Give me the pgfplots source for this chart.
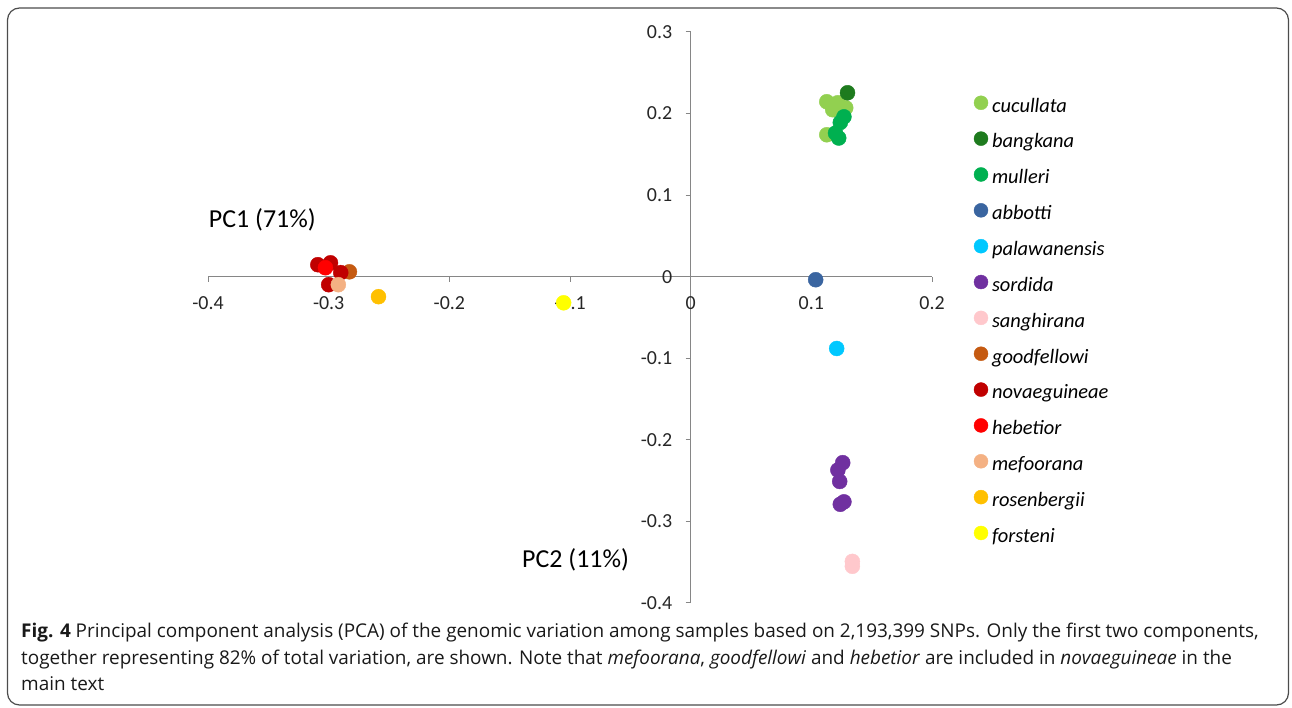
\documentclass[border=0pt]{standalone}
\usepackage{pgfplots}
\pgfplotsset{compat=1.18}
\usepackage{fontspec}
\setmainfont{Carlito}
\newfontfamily\capfont{Open Sans}
\definecolor{ccu}{HTML}{92D050}
\definecolor{cba}{HTML}{1E7B1E}
\definecolor{cmu}{HTML}{00B050}
\definecolor{cab}{HTML}{3A65A0}
\definecolor{cpa}{HTML}{00C8FF}
\definecolor{cso}{HTML}{7030A0}
\definecolor{csa}{HTML}{FFC8CC}
\definecolor{cgo}{HTML}{C55A11}
\definecolor{cno}{HTML}{C00000}
\definecolor{che}{HTML}{FF0000}
\definecolor{cme}{HTML}{F4B183}
\definecolor{cro}{HTML}{FFC000}
\definecolor{cfo}{HTML}{FFFF00}
\definecolor{axgray}{HTML}{868686}
\begin{document}
\begin{tikzpicture}[x=1bp,y=1bp]
\useasboundingbox (0,0) rectangle (1292,708);
\draw[black!70, line width=1.2bp, rounded corners=12bp] (7.5,3) rectangle (1288.5,700);
\begin{axis}[
  at={(208bp,105bp)}, anchor=south west,
  scale only axis, width=724bp, height=571bp,
  xmin=-0.4, xmax=0.2, ymin=-0.4, ymax=0.3,
  axis lines=middle,
  axis line style={draw=axgray, line width=1.3bp, -},
  every inner x axis line/.append style={-},
  every inner y axis line/.append style={-},
  hide obscured x ticks=false, hide obscured y ticks=false,
  xtick={-0.4,-0.3,-0.2,-0.1,0,0.1,0.2},
  ytick={-0.4,-0.3,-0.2,-0.1,0,0.1,0.2,0.3},
  tick align=outside, major tick length=5bp,
  tick style={draw=axgray, line width=1bp},
  x tick label style={font=\fontsize{20}{23}\selectfont, text=black!85, yshift=-11bp},
  y tick label style={font=\fontsize{20}{23}\selectfont, text=black!85, xshift=-10bp},
  /pgf/number format/assume math mode=true,
  /pgf/number format/fixed, /pgf/number format/precision=1,
  clip=false,
  legend cell align=left,
  legend image code/.code={\draw[#1, mark size=7bp] plot coordinates {(0bp,4.8bp)};},
  legend style={draw=none, fill=none, at={(1,1)}, anchor=north west,
    xshift=42bp, yshift=-63.8bp, inner sep=0pt, outer sep=0pt,
    row sep=14.55bp, column sep=4bp,
    nodes={inner sep=0pt, text height=14bp, text depth=5bp},
    font=\itshape\fontsize{20.5}{23}\selectfont},
  every axis plot/.append style={only marks, mark=*, mark size=7.5bp},
]
\addplot[mark options={draw=ccu, fill=ccu}] coordinates {(0.1128,0.2145) (0.1219,0.2132) (0.1285,0.2071) (0.1177,0.2047) (0.1128,0.174)};
\addlegendentry{cucullata}
\addplot[mark options={draw=cba, fill=cba}] coordinates {(0.130,0.2255)};
\addlegendentry{bangkana}
\addplot[mark options={draw=cmu, fill=cmu}] coordinates {(0.127,0.196) (0.124,0.189) (0.120,0.176) (0.1227,0.170)};
\addlegendentry{mulleri}
\addplot[mark options={draw=cab, fill=cab}] coordinates {(0.1036,-0.0037)};
\addlegendentry{abbotti}
\addplot[mark options={draw=cpa, fill=cpa}] coordinates {(0.121,-0.088)};
\addlegendentry{palawanensis}
\addplot[mark options={draw=cso, fill=cso}] coordinates {(0.126,-0.228) (0.122,-0.237) (0.1235,-0.251) (0.127,-0.276) (0.124,-0.279)};
\addlegendentry{sordida}
\addplot[mark options={draw=csa, fill=csa}] coordinates {(0.134,-0.349) (0.134,-0.355)};
\addlegendentry{sanghirana}
\addplot[mark options={draw=cgo, fill=cgo}] coordinates {(-0.2828,0.006)};
\addlegendentry{goodfellowi}
\addplot[mark options={draw=cno, fill=cno}] coordinates {(-0.309,0.0147) (-0.2985,0.017) (-0.290,0.005) (-0.300,-0.0098)};
\addlegendentry{novaeguineae}
\addplot[mark options={draw=che, fill=che}] coordinates {(-0.3027,0.011)};
\addlegendentry{hebetior}
\addplot[mark options={draw=cme, fill=cme}] coordinates {(-0.292,-0.0098)};
\addlegendentry{mefoorana}
\addplot[mark options={draw=cro, fill=cro}] coordinates {(-0.2587,-0.0245)};
\addlegendentry{rosenbergii}
\addplot[mark options={draw=cfo, fill=cfo}] coordinates {(-0.1053,-0.032)};
\addlegendentry{forsteni}
\node[font=\fontsize{26}{30}\selectfont, text=black] at (axis cs:-0.355,0.070) {PC1 (71\%)};
\node[font=\fontsize{26}{30}\selectfont, text=black] at (axis cs:-0.0954,-0.347) {PC2 (11\%)};
\end{axis}
\begin{scope}[every node/.style={anchor=base west, inner sep=0pt, font=\capfont\fontsize{19}{23}\selectfont, text=black!90}]
\node at (21,70) {\textbf{Fig. 4} Principal component analysis (PCA) of the genomic variation among samples based on 2,193,399 SNPs. Only the first two components,};
\node at (21,43) {together representing 82\% of total variation, are shown. Note that \textit{mefoorana}, \textit{goodfellowi} and \textit{hebetior} are included in \textit{novaeguineae} in the};
\node at (21,17) {main text};
\end{scope}
\end{tikzpicture}
\end{document}
